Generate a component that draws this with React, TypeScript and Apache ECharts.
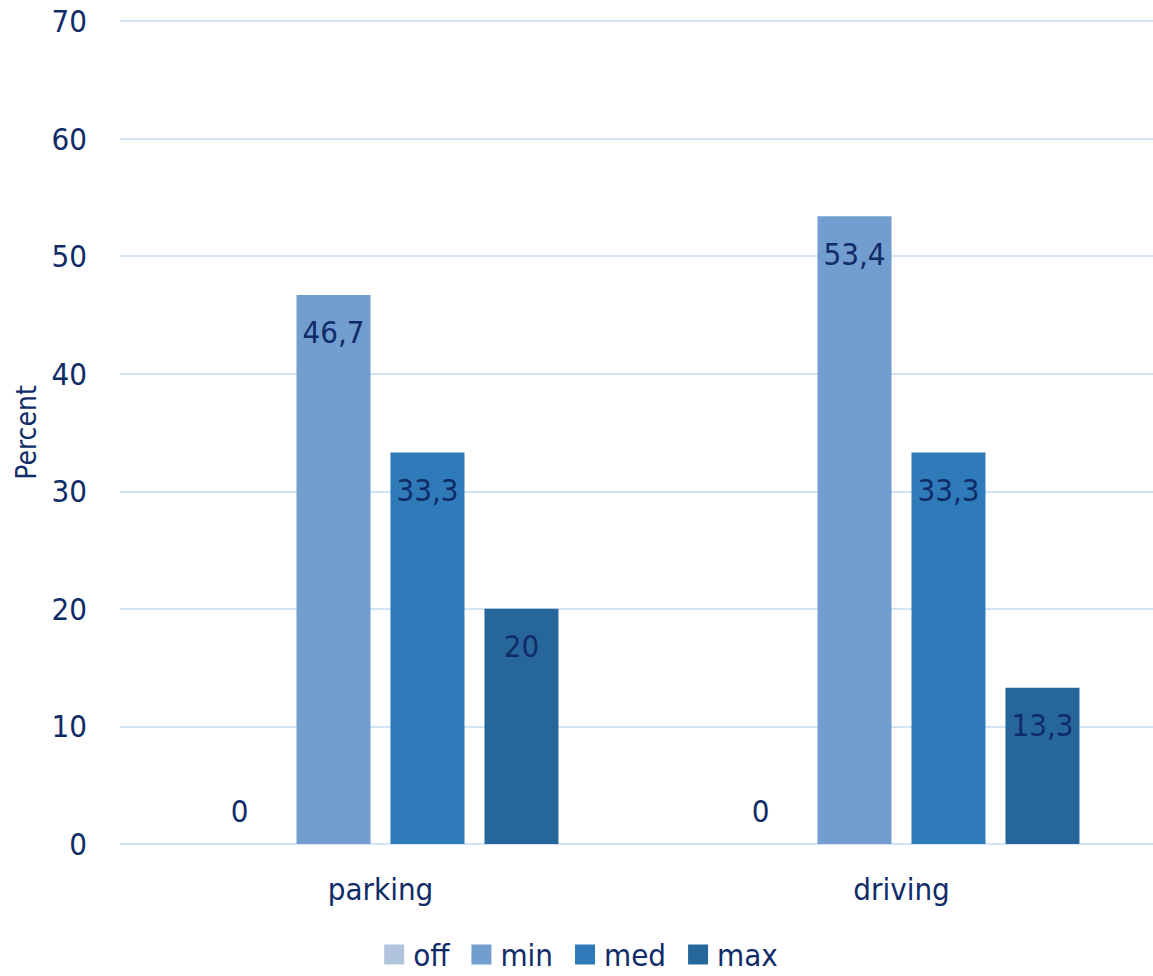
import React, { useEffect, useRef } from "react";
import * as echarts from "echarts";

const categories = ["parking", "driving"];
const seriesNames = ["off", "min", "med", "max"];
const offValues = [0, 0];
const minValues = [46.7, 53.4];
const medValues = [33.3, 33.3];
const maxValues = [20, 13.3];
const colors = ["#b0c4de", "#729dcf", "#2f7ab8", "#27669b"];
const yTicks = [0, 10, 20, 30, 40, 50, 60, 70];

const FONT = "'Liberation Sans Narrow', 'Arial Narrow', 'DejaVu Sans Condensed', 'Roboto', sans-serif";
const TEXT = "#102c68";

export default function App() {
  const ref = useRef<HTMLDivElement>(null);
  useEffect(() => {
    if (!ref.current) return;
    const chart = echarts.init(ref.current, undefined, { renderer: "svg" });
    const all = [offValues, minValues, medValues, maxValues];
    const fmt = (v: number) => String(v).replace(".", ",");
    chart.setOption({
      animation: false,
      textStyle: { fontFamily: FONT },
      legend: {
        bottom: 1,
        left: "center",
        itemWidth: 20,
        itemHeight: 20,
        itemGap: 22,
        icon: "rect",
        textStyle: { fontFamily: FONT, fontSize: 31, color: TEXT, padding: [0, 0, 0, 4] },
        data: seriesNames,
      },
      grid: { left: 120, right: 0, top: 21, bottom: 132, containLabel: false, outerBoundsMode: "none" },
      xAxis: {
        type: "category",
        data: categories,
        axisLine: { show: false },
        axisTick: { show: false },
        axisLabel: { fontFamily: FONT, fontSize: 31, color: TEXT, margin: 29 },
      },
      yAxis: {
        type: "value",
        min: yTicks[0],
        max: yTicks[yTicks.length - 1],
        interval: 10,
        name: "Percent",
        nameLocation: "middle",
        nameGap: 80,
        nameTextStyle: { fontFamily: FONT, fontSize: 28, color: TEXT },
        axisLine: { show: false },
        axisTick: { show: false },
        splitLine: { lineStyle: { color: "#d4e4f4", width: 2 } },
        axisLabel: { fontFamily: FONT, fontSize: 31, color: TEXT, margin: 33 },
      },
      series: seriesNames.map((name, i) => ({
        name,
        type: "bar",
        data: all[i],
        barWidth: 74,
        barGap: "27%",
        itemStyle: { color: colors[i] },
        label: {
          show: true,
          position: i === 0 ? "top" : "insideTop",
          distance: i === 0 ? 18 : 22,
          fontFamily: FONT,
          fontSize: 31,
          color: TEXT,
          formatter: (p: any) => fmt(p.value),
        },
      })),
    });
    return () => chart.dispose();
  }, []);
  return (
    <div style={{ position: "fixed", left: 0, top: 0, width: 1153, height: 976, overflow: "hidden", background: "#fff" }}>
      <div ref={ref} style={{ width: 1162, height: 976 }} />
    </div>
  );
}
